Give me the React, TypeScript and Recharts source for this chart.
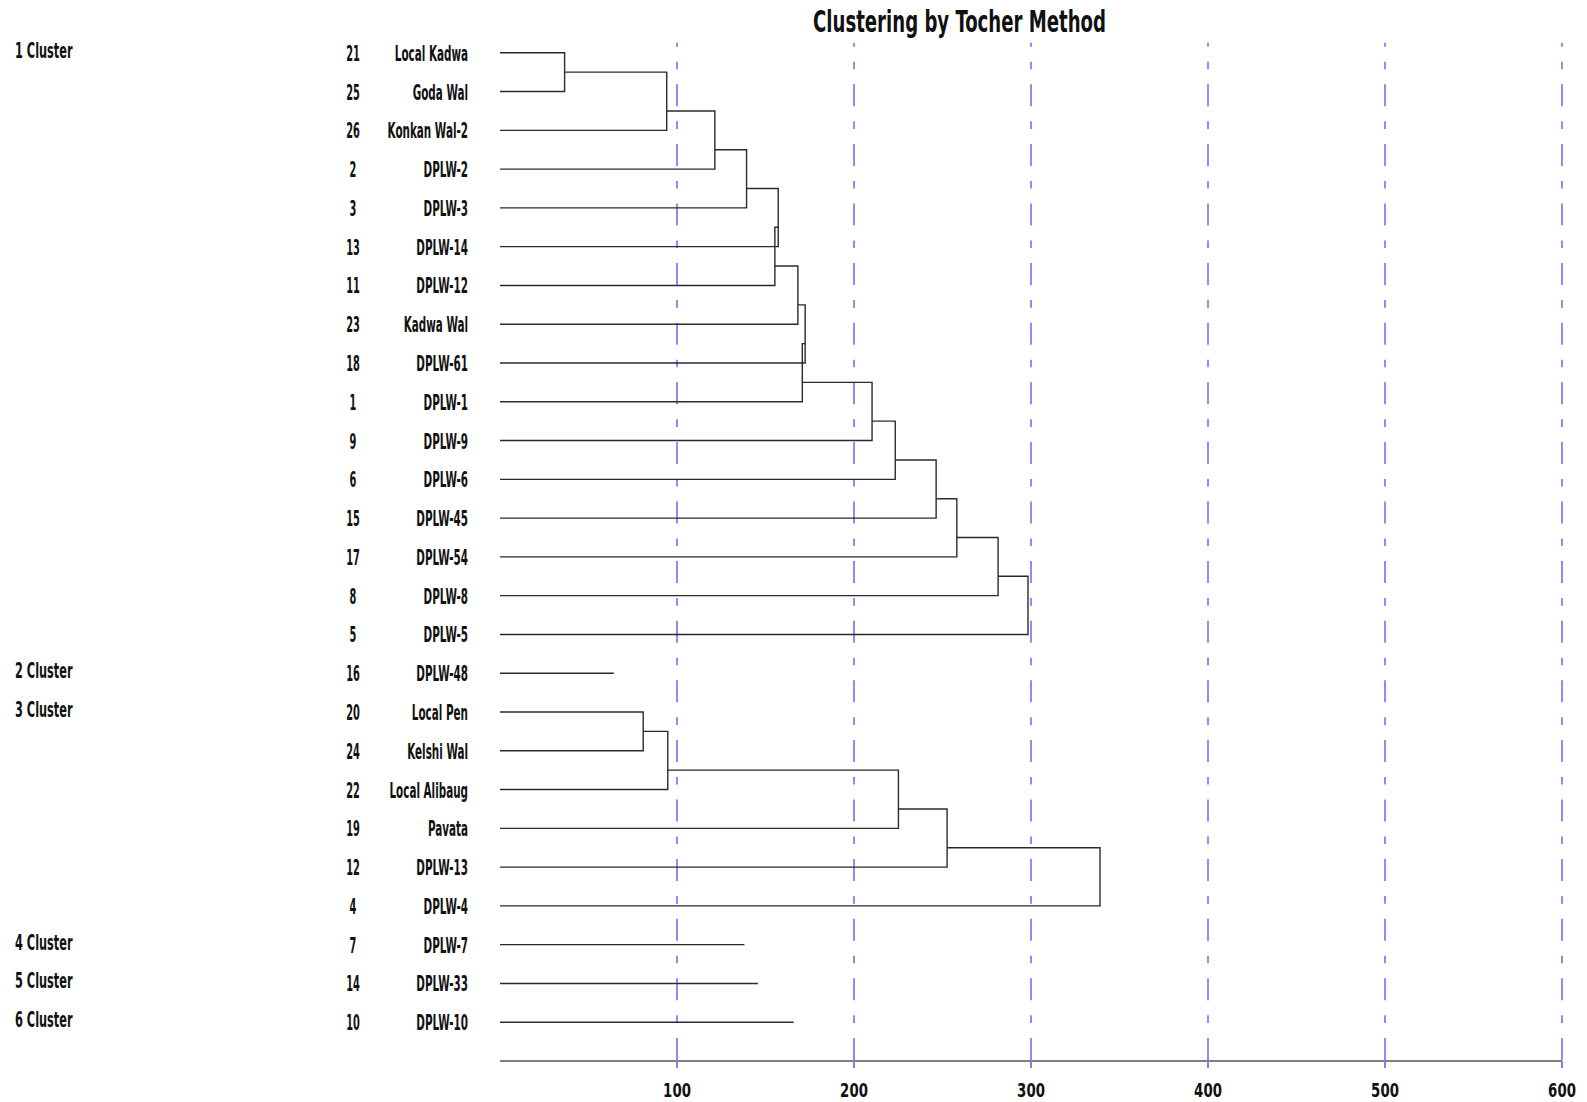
import React from 'react'
import { ComposedChart, Line, XAxis, YAxis, ReferenceLine } from 'recharts'

// genotype rows, top to bottom
const rowNumbers = [21, 25, 26, 2, 3, 13, 11, 23, 18, 1, 9, 6, 15, 17, 8, 5, 16, 20, 24, 22, 19, 12, 4, 7, 14, 10]
const rowNames = [
  'Local Kadwa', 'Goda Wal', 'Konkan Wal-2', 'DPLW-2', 'DPLW-3', 'DPLW-14', 'DPLW-12', 'Kadwa Wal',
  'DPLW-61', 'DPLW-1', 'DPLW-9', 'DPLW-6', 'DPLW-45', 'DPLW-54', 'DPLW-8', 'DPLW-5', 'DPLW-48',
  'Local Pen', 'Kelshi Wal', 'Local Alibaug', 'Pavata', 'DPLW-13', 'DPLW-4', 'DPLW-7', 'DPLW-33', 'DPLW-10',
]
const clusterNames = ['1 Cluster', '2 Cluster', '3 Cluster', '4 Cluster', '5 Cluster', '6 Cluster']
const clusterFirstRows = [1, 17, 18, 24, 25, 26]

// join distances, in the order rows are added to the cluster
const cluster1Heights = [36.5, 94.2, 121.4, 139.3, 157.2, 155.3, 168.3, 172.4, 170.8, 210.2, 223.3, 246.4, 258.1, 281.4, 298.3]
const cluster3Heights = [80.9, 94.8, 225.1, 252.6, 339.0]
// one-member clusters
const singleRows = [17, 24, 25, 26]
const singleDistances = [64.3, 138.1, 145.7, 165.9]

const xTicks = [100, 200, 300, 400, 500, 600]
const rowTicks = rowNumbers.map((_, i) => i + 1)

const FONT = "'DejaVu Sans Condensed', 'DejaVu Sans', sans-serif"

type Pt = { x: number; y: number }

// each join: come in from the previous join, drop to the new row, run back to 0
function clusterPaths(firstRow: number, heights: number[]): Pt[][] {
  const out: Pt[][] = []
  let prevH = 0
  let pos = firstRow
  heights.forEach((h, k) => {
    const leaf = firstRow + k + 1
    out.push([{ x: prevH, y: pos }, { x: h, y: pos }, { x: h, y: leaf }, { x: 0, y: leaf }])
    prevH = h
    pos = leaf - 0.5
  })
  return out
}

const paths: Pt[][] = [
  ...clusterPaths(1, cluster1Heights),
  ...clusterPaths(18, cluster3Heights),
  ...singleRows.map((r, i) => [{ x: 0, y: r }, { x: singleDistances[i], y: r }]),
]

function RowTick(props: any) {
  const { y, payload } = props
  const row = payload.value
  const i = row - 1
  const c = clusterFirstRows.indexOf(row)
  return (
    <g fill="#111" fontFamily={FONT} fontWeight="bold" fontSize={21}>
      {c >= 0 && (
        <text transform={`translate(15,${y + 5}) scale(0.6,1)`}>{clusterNames[c]}</text>
      )}
      <text transform={`translate(353,${y + 8}) scale(0.52,1)`} textAnchor="middle">{rowNumbers[i]}</text>
      <text transform={`translate(468,${y + 8}) scale(0.55,1)`} textAnchor="end">{rowNames[i]}</text>
    </g>
  )
}

function XTick(props: any) {
  const { x, y, payload } = props
  return (
    <text
      transform={`translate(${x},${y + 14}) scale(0.74,1)`}
      textAnchor="middle"
      fill="#111"
      fontFamily={FONT}
      fontWeight="bold"
      fontSize={20}
    >
      {payload.value}
    </text>
  )
}

export default function App() {
  return (
    <div style={{ position: 'absolute', left: 0, top: 0, width: 1587, height: 1102, background: '#fff' }}>
      <svg width={1587} height={50} style={{ position: 'absolute', left: 0, top: 0 }}>
        <text
          x={813}
          y={32}
          textLength={293}
          lengthAdjust="spacingAndGlyphs"
          fontFamily={FONT}
          fontWeight="bold"
          fontSize={31}
          fill="#111"
        >
          Clustering by Tocher Method
        </text>
      </svg>
      <ComposedChart width={1587} height={1102} margin={{ top: 14, right: 25, bottom: 0, left: 0 }}>
        <XAxis
          type="number"
          dataKey="x"
          domain={[0, 600]}
          ticks={xTicks}
          height={41}
          axisLine={{ stroke: '#555', strokeWidth: 1.5 }}
          tickLine={{ stroke: '#8080ff', strokeWidth: 2 }}
          tickSize={7}
          tickMargin={15}
          tick={(p: any) => <XTick {...p} />}
        />
        <YAxis
          type="number"
          dataKey="y"
          domain={[0, 27]}
          reversed
          ticks={rowTicks}
          interval={0}
          width={500}
          axisLine={false}
          tickLine={false}
          tick={(p: any) => <RowTick {...p} />}
        />
        {xTicks.map((v) => (
          <ReferenceLine
            key={v}
            segment={[{ x: v, y: 0.74 }, { x: v, y: 27 }]}
            stroke="#8c8cff"
            strokeWidth={2}
            strokeDasharray="22 15 7.6 15"
            strokeDashoffset={18}
          />
        ))}
        {paths.map((p, i) => (
          <Line
            key={i}
            data={p}
            dataKey="y"
            type="linear"
            stroke="#2b2b2b"
            strokeWidth={1.4}
            dot={false}
            activeDot={false}
            isAnimationActive={false}
          />
        ))}
      </ComposedChart>
    </div>
  )
}
